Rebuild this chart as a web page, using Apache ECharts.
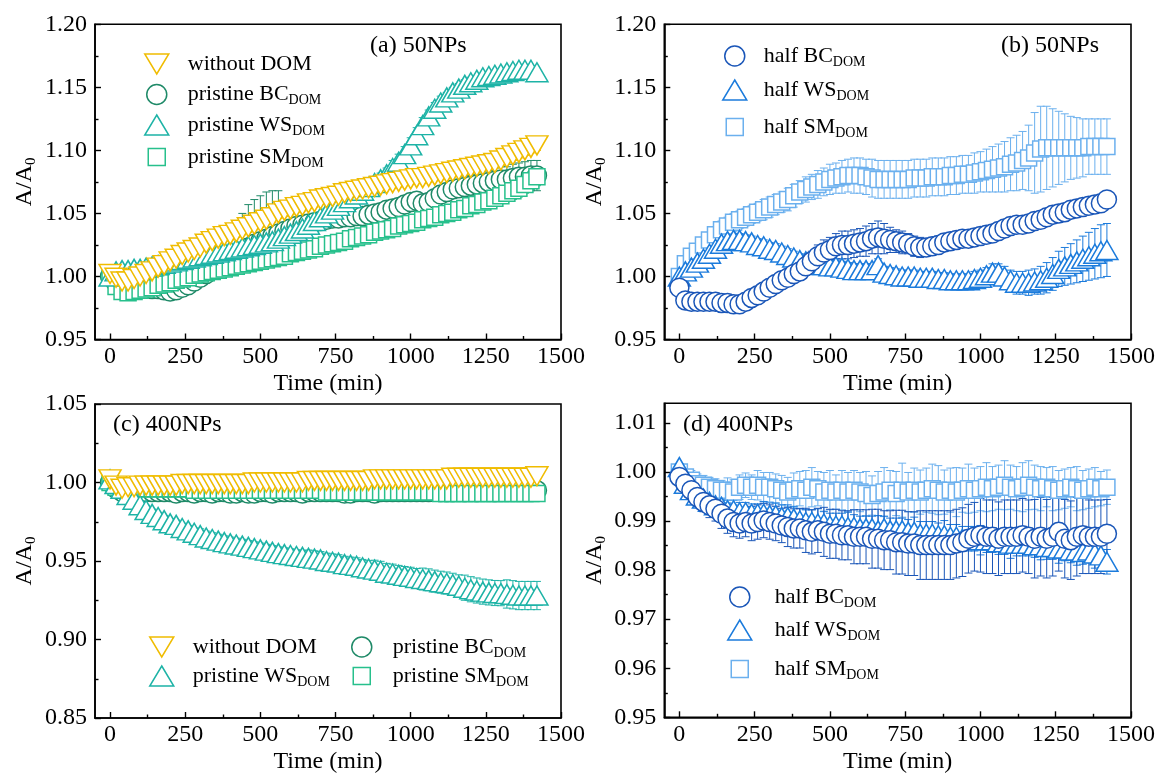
<!DOCTYPE html>
<html><head><meta charset="utf-8">
<script src="https://cdn.jsdelivr.net/npm/echarts@6/dist/echarts.min.js"></script>
<style>html,body{margin:0;padding:0;background:#fff}#c{width:1159px;height:778px}</style>
</head><body><div id="c"></div>
<script>
// ---------- data ----------
const times = [0,20,40,60,80,100,120,140,160,180,200,220,240,260,280,300,320,340,360,380,400,420,440,460,480,500,520,540,560,580,600,620,640,660,680,700,720,740,760,780,800,820,840,860,880,900,920,940,960,980,1000,1020,1040,1060,1080,1100,1120,1140,1160,1180,1200,1220,1240,1260,1280,1300,1320,1340,1360,1380,1400,1420];

const xMajor = [0,250,500,750,1000,1250,1500];
const xMinor = [125,375,625,875,1125,1375];
const yMajorAB = [0.95,1.00,1.05,1.10,1.15,1.20];
const yMinorAB = [0.975,1.025,1.075,1.125,1.175];
const yMajorC = [0.85,0.90,0.95,1.00,1.05];
const yMinorC = [0.875,0.925,0.975,1.025];
const yMajorD = [0.95,0.96,0.97,0.98,0.99,1.00,1.01];
const yMinorD = [0.955,0.965,0.975,0.985,0.995,1.005];

// (a) 50NPs
const a_wo_y = [1.002,0.999,0.996,0.996,0.998,1.000,1.002,1.004,1.007,1.009,
1.012,1.014,1.017,1.019,1.021,1.023,1.026,1.028,1.030,1.032,
1.033,1.035,1.037,1.039,1.041,1.043,1.045,1.047,1.050,1.052,
1.053,1.055,1.056,1.058,1.059,1.061,1.062,1.063,1.064,1.066,
1.067,1.068,1.069,1.070,1.071,1.072,1.073,1.074,1.075,1.076,
1.077,1.078,1.078,1.079,1.080,1.081,1.082,1.083,1.084,1.085,
1.086,1.087,1.088,1.089,1.090,1.092,1.094,1.096,1.098,1.100,
1.102,1.104];
const a_wo_e = [0.002,0.002,0.003,0.003,0.003,0.003,0.003,0.003,0.003,0.003,
0.003,0.003,0.003,0.003,0.003,0.003,0.003,0.004,0.004,0.004,
0.004,0.004,0.004,0.004,0.004,0.004,0.004,0.004,0.004,0.004,
0.004,0.004,0.004,0.004,0.004,0.004,0.004,0.004,0.004,0.004,
0.004,0.004,0.004,0.004,0.004,0.004,0.004,0.004,0.004,0.004,
0.004,0.004,0.004,0.004,0.004,0.004,0.004,0.004,0.004,0.004,
0.004,0.004,0.004,0.004,0.004,0.004,0.004,0.004,0.004,0.004,
0.004,0.004];
const a_bc_y = [1.000,0.995,0.992,0.991,0.990,0.991,0.991,0.990,0.990,0.989,
0.988,0.989,0.991,0.993,0.996,0.999,1.002,1.005,1.008,1.011,
1.014,1.017,1.020,1.023,1.026,1.028,1.030,1.032,1.034,1.036,
1.038,1.040,1.041,1.042,1.043,1.044,1.045,1.046,1.046,1.047,
1.047,1.048,1.048,1.049,1.050,1.051,1.053,1.054,1.055,1.057,
1.059,1.060,1.058,1.059,1.062,1.065,1.067,1.069,1.070,1.071,
1.072,1.073,1.074,1.075,1.076,1.077,1.077,1.078,1.079,1.079,
1.080,1.080];
// upper error
const a_bc_e = [0.002,0.003,0.003,0.003,0.003,0.003,0.003,0.003,0.003,0.003,
0.003,0.003,0.004,0.004,0.004,0.004,0.005,0.005,0.006,0.007,
0.010,0.026,0.030,0.034,0.035,0.036,0.037,0.036,0.034,0.012,
0.005,0.004,0.004,0.004,0.004,0.004,0.004,0.004,0.004,0.004,
0.004,0.004,0.004,0.004,0.004,0.004,0.005,0.005,0.005,0.005,
0.005,0.005,0.005,0.006,0.006,0.006,0.006,0.007,0.007,0.008,
0.008,0.008,0.009,0.009,0.010,0.010,0.010,0.011,0.011,0.012,
0.012,0.012];
// lower error
const a_bc_elo = [0.002,0.003,0.003,0.003,0.003,0.003,0.003,0.003,0.003,0.003,
0.003,0.003,0.004,0.004,0.004,0.004,0.005,0.005,0.005,0.005,
0.005,0.005,0.005,0.005,0.005,0.005,0.005,0.005,0.005,0.005,
0.005,0.004,0.004,0.004,0.004,0.004,0.004,0.004,0.004,0.004,
0.004,0.004,0.004,0.004,0.004,0.004,0.005,0.005,0.005,0.005,
0.005,0.005,0.005,0.006,0.006,0.006,0.006,0.007,0.007,0.008,
0.008,0.008,0.009,0.009,0.010,0.010,0.010,0.011,0.011,0.012,
0.012,0.012];
const a_ws_y = [1.000,1.004,1.005,1.005,1.006,1.006,1.007,1.008,1.009,1.010,
1.011,1.012,1.013,1.014,1.015,1.016,1.017,1.018,1.019,1.020,
1.021,1.022,1.023,1.024,1.025,1.026,1.027,1.028,1.030,1.032,
1.034,1.036,1.038,1.041,1.044,1.047,1.050,1.053,1.056,1.059,
1.062,1.065,1.068,1.071,1.074,1.077,1.081,1.086,1.091,1.097,
1.104,1.112,1.120,1.127,1.133,1.138,1.142,1.146,1.149,1.152,
1.154,1.156,1.158,1.159,1.160,1.161,1.162,1.163,1.164,1.164,
1.164,1.162];
const a_ws_e = [0.002,0.003,0.003,0.003,0.003,0.003,0.003,0.003,0.003,0.003,
0.003,0.003,0.003,0.003,0.003,0.003,0.003,0.003,0.003,0.003,
0.003,0.003,0.003,0.003,0.003,0.003,0.003,0.004,0.004,0.004,
0.004,0.004,0.004,0.004,0.004,0.004,0.004,0.004,0.004,0.004,
0.004,0.004,0.004,0.004,0.005,0.005,0.005,0.006,0.006,0.006,
0.006,0.006,0.006,0.005,0.005,0.005,0.004,0.004,0.004,0.004,
0.004,0.003,0.003,0.003,0.003,0.003,0.003,0.003,0.003,0.003,
0.003,0.003];
const a_sm_y = [1.000,0.992,0.988,0.987,0.988,0.989,0.990,0.991,0.993,0.994,
0.995,0.997,0.998,0.999,1.001,1.002,1.003,1.004,1.005,1.006,
1.007,1.008,1.009,1.010,1.011,1.012,1.013,1.014,1.015,1.016,
1.018,1.019,1.020,1.021,1.022,1.024,1.025,1.026,1.027,1.028,
1.030,1.031,1.032,1.033,1.035,1.036,1.037,1.038,1.040,1.041,
1.042,1.043,1.045,1.046,1.047,1.049,1.050,1.051,1.053,1.054,
1.056,1.057,1.059,1.060,1.062,1.064,1.066,1.068,1.070,1.073,
1.076,1.079];
const a_sm_e = [0.002,0.003,0.003,0.003,0.003,0.004,0.004,0.004,0.004,0.004,
0.004,0.004,0.004,0.004,0.004,0.004,0.004,0.005,0.005,0.005,
0.005,0.005,0.005,0.005,0.005,0.005,0.005,0.005,0.005,0.005,
0.005,0.005,0.005,0.005,0.005,0.005,0.005,0.005,0.005,0.005,
0.005,0.005,0.005,0.005,0.005,0.005,0.005,0.005,0.005,0.005,
0.005,0.005,0.005,0.005,0.005,0.005,0.005,0.006,0.006,0.006,
0.006,0.006,0.006,0.006,0.006,0.006,0.006,0.007,0.007,0.007,
0.007,0.007];

// (b) 50NPs
const b_bc_y = [0.991,0.981,0.980,0.980,0.980,0.980,0.980,0.979,0.979,0.978,
0.978,0.980,0.983,0.985,0.988,0.991,0.994,0.997,0.999,1.002,
1.004,1.008,1.012,1.016,1.019,1.021,1.024,1.025,1.025,1.026,
1.027,1.028,1.030,1.031,1.030,1.029,1.028,1.027,1.026,1.024,
1.023,1.023,1.024,1.025,1.027,1.028,1.029,1.030,1.030,1.031,
1.032,1.033,1.034,1.036,1.038,1.040,1.041,1.041,1.042,1.044,
1.045,1.047,1.049,1.050,1.051,1.053,1.054,1.055,1.056,1.057,
1.058,1.061];
const b_bc_e = [0.002,0.003,0.003,0.003,0.003,0.004,0.004,0.004,0.005,0.006,
0.006,0.006,0.005,0.005,0.005,0.005,0.005,0.006,0.006,0.006,
0.007,0.007,0.008,0.009,0.010,0.010,0.010,0.011,0.011,0.011,
0.011,0.012,0.012,0.013,0.012,0.010,0.009,0.009,0.008,0.008,
0.008,0.007,0.007,0.007,0.006,0.006,0.006,0.006,0.006,0.006,
0.006,0.006,0.006,0.005,0.005,0.005,0.005,0.005,0.005,0.005,
0.005,0.005,0.005,0.005,0.004,0.004,0.004,0.004,0.004,0.004,
0.004,0.004];
const b_ws_y = [1.000,1.004,1.007,1.011,1.014,1.018,1.022,1.026,1.028,1.029,
1.029,1.028,1.027,1.025,1.024,1.022,1.021,1.019,1.017,1.015,
1.013,1.012,1.010,1.009,1.009,1.008,1.008,1.007,1.006,1.005,
1.005,1.005,1.005,1.009,1.003,1.002,1.001,1.000,1.000,1.000,
0.999,0.999,0.999,0.998,0.998,0.997,0.997,0.997,0.997,0.998,
0.999,1.001,1.003,1.003,1.000,0.997,0.995,0.995,0.995,0.996,
0.997,0.999,1.002,1.006,1.008,1.010,1.012,1.014,1.016,1.018,
1.020,1.021];
const b_ws_e = [0.002,0.003,0.003,0.004,0.004,0.004,0.005,0.005,0.005,0.005,
0.005,0.005,0.005,0.005,0.005,0.005,0.005,0.005,0.005,0.005,
0.005,0.005,0.005,0.005,0.005,0.005,0.005,0.005,0.005,0.005,
0.005,0.005,0.005,0.005,0.005,0.005,0.005,0.005,0.005,0.005,
0.005,0.005,0.005,0.005,0.005,0.005,0.005,0.005,0.005,0.006,
0.006,0.006,0.007,0.007,0.008,0.008,0.009,0.009,0.010,0.010,
0.011,0.012,0.013,0.014,0.015,0.016,0.017,0.018,0.019,0.020,
0.021,0.021];
const b_sm_y = [1.000,1.010,1.016,1.020,1.025,1.029,1.033,1.037,1.040,1.043,
1.045,1.047,1.049,1.051,1.053,1.055,1.057,1.059,1.061,1.064,
1.067,1.069,1.071,1.073,1.075,1.077,1.078,1.079,1.080,1.080,
1.080,1.079,1.078,1.077,1.077,1.077,1.077,1.077,1.077,1.078,
1.078,1.078,1.079,1.079,1.079,1.080,1.080,1.081,1.081,1.082,
1.083,1.084,1.085,1.086,1.087,1.089,1.090,1.092,1.094,1.098,
1.101,1.102,1.102,1.102,1.102,1.102,1.102,1.102,1.103,1.103,
1.103,1.103];
const b_sm_e = [0.002,0.004,0.005,0.006,0.006,0.006,0.006,0.007,0.007,0.007,
0.007,0.007,0.007,0.007,0.008,0.008,0.008,0.008,0.009,0.009,
0.009,0.010,0.010,0.011,0.011,0.012,0.012,0.013,0.013,0.014,
0.014,0.014,0.015,0.015,0.015,0.015,0.015,0.015,0.015,0.015,
0.015,0.015,0.015,0.015,0.015,0.015,0.015,0.015,0.015,0.016,
0.016,0.017,0.018,0.019,0.020,0.021,0.022,0.023,0.026,0.032,
0.034,0.033,0.031,0.029,0.027,0.025,0.024,0.023,0.022,0.022,
0.022,0.022];

// (c) 400NPs
const c_wo_y = [1.002,0.998,0.996,0.997,0.997,0.998,0.998,0.998,0.998,0.998,
0.998,0.998,0.999,0.999,0.999,0.999,0.999,0.999,0.999,0.999,
0.999,0.999,0.999,0.999,1.000,1.000,1.000,1.000,1.000,1.000,
1.000,1.000,1.000,1.001,1.001,1.001,1.001,1.001,1.001,1.001,
1.001,1.001,1.001,1.001,1.002,1.002,1.002,1.002,1.002,1.002,
1.002,1.002,1.002,1.002,1.002,1.002,1.002,1.003,1.003,1.003,
1.003,1.003,1.003,1.003,1.003,1.003,1.003,1.003,1.003,1.003,
1.003,1.004];
const c_wo_e = [0.001,0.002,0.002,0.002,0.002,0.002,0.002,0.002,0.002,0.002,
0.002,0.002,0.002,0.002,0.002,0.002,0.002,0.002,0.002,0.002,
0.002,0.002,0.002,0.002,0.002,0.003,0.002,0.002,0.002,0.002,
0.002,0.002,0.003,0.002,0.002,0.002,0.002,0.002,0.003,0.002,
0.002,0.002,0.002,0.002,0.002,0.002,0.003,0.002,0.002,0.002,
0.002,0.002,0.002,0.003,0.002,0.002,0.002,0.002,0.002,0.002,
0.003,0.002,0.002,0.002,0.002,0.002,0.003,0.002,0.002,0.002,
0.002,0.002];
const c_bc_y = [1.000,0.996,0.994,0.994,0.994,0.994,0.994,0.994,0.994,0.994,
0.994,0.993,0.994,0.994,0.993,0.994,0.994,0.993,0.994,0.994,
0.993,0.993,0.994,0.993,0.993,0.994,0.994,0.993,0.994,0.994,
0.994,0.994,0.993,0.994,0.994,0.994,0.994,0.994,0.994,0.993,
0.993,0.994,0.994,0.994,0.993,0.994,0.994,0.994,0.994,0.994,
0.994,0.994,0.994,0.994,0.995,0.994,0.994,0.994,0.995,0.994,
0.995,0.994,0.995,0.995,0.994,0.995,0.995,0.995,0.995,0.995,
0.995,0.995];
const c_bc_e = [0.001,0.002,0.002,0.002,0.002,0.002,0.002,0.002,0.002,0.002,
0.002,0.002,0.002,0.002,0.002,0.002,0.002,0.002,0.002,0.002,
0.002,0.002,0.002,0.002,0.002,0.002,0.002,0.002,0.002,0.002,
0.002,0.002,0.002,0.002,0.002,0.002,0.002,0.002,0.002,0.002,
0.002,0.002,0.002,0.002,0.002,0.002,0.002,0.002,0.002,0.002,
0.002,0.002,0.002,0.002,0.002,0.002,0.002,0.002,0.002,0.002,
0.002,0.002,0.002,0.002,0.002,0.002,0.002,0.002,0.002,0.002,
0.002,0.002];
const c_ws_y = [1.002,0.999,0.996,0.992,0.989,0.9855,0.9825,0.980,0.978,0.976,
0.974,0.973,0.971,0.9695,0.968,0.9665,0.965,0.964,0.963,0.962,
0.9612,0.9605,0.9598,0.959,0.9582,0.9574,0.9566,0.9558,0.955,0.9544,
0.9538,0.9532,0.9526,0.952,0.9515,0.951,0.950,0.9495,0.949,0.948,
0.9475,0.947,0.946,0.9452,0.9445,0.9438,0.9425,0.942,0.9412,0.9405,
0.940,0.9392,0.9385,0.938,0.9372,0.9365,0.936,0.9352,0.9342,0.933,
0.932,0.9312,0.9305,0.930,0.9296,0.9295,0.929,0.9285,0.928,0.928,
0.928,0.928];
const c_ws_e = [0.001,0.002,0.002,0.002,0.003,0.003,0.003,0.003,0.003,0.003,
0.003,0.003,0.003,0.003,0.003,0.004,0.004,0.004,0.004,0.004,
0.004,0.004,0.004,0.004,0.004,0.004,0.004,0.004,0.004,0.004,
0.004,0.004,0.004,0.005,0.005,0.005,0.005,0.005,0.005,0.005,
0.005,0.005,0.005,0.005,0.006,0.006,0.006,0.006,0.006,0.006,
0.006,0.006,0.007,0.007,0.007,0.007,0.007,0.007,0.007,0.008,
0.008,0.008,0.008,0.008,0.008,0.008,0.009,0.009,0.009,0.009,
0.009,0.009];
const c_sm_y = [1.000,0.997,0.996,0.996,0.996,0.996,0.996,0.996,0.996,0.996,
0.996,0.996,0.996,0.996,0.995,0.995,0.995,0.995,0.995,0.995,
0.995,0.995,0.995,0.995,0.995,0.995,0.995,0.995,0.995,0.995,
0.995,0.995,0.995,0.995,0.995,0.995,0.994,0.994,0.994,0.994,
0.994,0.994,0.994,0.994,0.994,0.994,0.994,0.994,0.994,0.994,
0.994,0.994,0.994,0.994,0.994,0.993,0.993,0.993,0.993,0.993,
0.993,0.993,0.993,0.993,0.993,0.993,0.993,0.993,0.993,0.993,
0.993,0.993];
const c_sm_e = [0.001,0.002,0.002,0.002,0.002,0.002,0.002,0.002,0.002,0.002,
0.002,0.002,0.002,0.002,0.002,0.002,0.002,0.002,0.002,0.002,
0.002,0.002,0.002,0.002,0.002,0.002,0.002,0.002,0.002,0.002,
0.002,0.002,0.002,0.002,0.002,0.002,0.002,0.002,0.002,0.002,
0.002,0.002,0.002,0.002,0.002,0.002,0.002,0.002,0.002,0.002,
0.002,0.002,0.002,0.002,0.002,0.002,0.002,0.002,0.002,0.002,
0.003,0.003,0.003,0.003,0.003,0.003,0.003,0.003,0.003,0.003,
0.003,0.003];

// (d) 400NPs
const d_bc_y = [0.9990,0.9976,0.9963,0.9949,0.9939,0.9932,0.9925,0.9915,0.9905,0.9898,
0.9895,0.9898,0.9895,0.9898,0.9901,0.9898,0.9895,0.9891,0.9888,0.9885,
0.9885,0.9881,0.9878,0.9881,0.9878,0.9874,0.9874,0.9871,0.9871,0.9868,
0.9868,0.9868,0.9864,0.9864,0.9861,0.9861,0.9857,0.9857,0.9854,0.9854,
0.9851,0.9851,0.9851,0.9851,0.9851,0.9851,0.9854,0.9857,0.9864,0.9868,
0.9871,0.9868,0.9868,0.9864,0.9868,0.9868,0.9868,0.9871,0.9868,0.9864,
0.9868,0.9864,0.9868,0.9878,0.9864,0.9861,0.9868,0.9871,0.9868,0.9868,
0.9868,0.9874];
const d_bc_e = [0.0005,0.0010,0.0015,0.0020,0.0020,0.0025,0.0025,0.0030,0.0030,0.0030,
0.0030,0.0030,0.0035,0.0035,0.0035,0.0035,0.0035,0.0035,0.0040,0.0040,
0.0040,0.0045,0.0045,0.0045,0.0050,0.0050,0.0050,0.0050,0.0050,0.0055,
0.0055,0.0055,0.0060,0.0060,0.0060,0.0060,0.0065,0.0065,0.0065,0.0065,
0.0070,0.0070,0.0070,0.0070,0.0070,0.0070,0.0070,0.0070,0.0070,0.0070,
0.0075,0.0075,0.0075,0.0075,0.0075,0.0075,0.0075,0.0075,0.0075,0.0080,
0.0080,0.0080,0.0080,0.0080,0.0080,0.0080,0.0080,0.0078,0.0075,0.0075,
0.0075,0.0070];
const d_ws_y = [1.0010,0.9976,0.9963,0.9952,0.9946,0.9939,0.9932,0.9929,0.9922,0.9922,
0.9918,0.9918,0.9915,0.9915,0.9915,0.9912,0.9912,0.9908,0.9908,0.9905,
0.9901,0.9898,0.9898,0.9895,0.9895,0.9891,0.9891,0.9891,0.9888,0.9888,
0.9885,0.9885,0.9885,0.9881,0.9885,0.9881,0.9881,0.9881,0.9878,0.9878,
0.9874,0.9874,0.9874,0.9871,0.9871,0.9868,0.9868,0.9864,0.9864,0.9864,
0.9861,0.9861,0.9861,0.9857,0.9857,0.9854,0.9854,0.9854,0.9854,0.9851,
0.9851,0.9847,0.9847,0.9844,0.9844,0.9840,0.9840,0.9837,0.9840,0.9834,
0.9830,0.9817];
const d_ws_e = [0.0005,0.0010,0.0015,0.0015,0.0020,0.0020,0.0020,0.0020,0.0020,0.0020,
0.0020,0.0020,0.0020,0.0020,0.0025,0.0025,0.0025,0.0025,0.0025,0.0025,
0.0025,0.0025,0.0025,0.0030,0.0025,0.0025,0.0025,0.0025,0.0030,0.0025,
0.0025,0.0025,0.0025,0.0030,0.0025,0.0025,0.0025,0.0025,0.0025,0.0030,
0.0025,0.0025,0.0025,0.0025,0.0030,0.0025,0.0025,0.0025,0.0025,0.0025,
0.0030,0.0025,0.0025,0.0025,0.0025,0.0030,0.0025,0.0025,0.0025,0.0025,
0.0030,0.0025,0.0025,0.0030,0.0025,0.0025,0.0030,0.0025,0.0025,0.0030,
0.0025,0.0025];
const d_sm_y = [1.0000,0.9990,0.9983,0.9976,0.9973,0.9969,0.9966,0.9963,0.9963,0.9959,
0.9969,0.9973,0.9969,0.9973,0.9969,0.9969,0.9966,0.9963,0.9959,0.9963,
0.9966,0.9963,0.9969,0.9966,0.9959,0.9963,0.9959,0.9963,0.9959,0.9963,
0.9959,0.9956,0.9952,0.9956,0.9959,0.9963,0.9956,0.9963,0.9959,0.9963,
0.9959,0.9963,0.9966,0.9963,0.9959,0.9963,0.9959,0.9963,0.9966,0.9963,
0.9966,0.9969,0.9966,0.9969,0.9973,0.9969,0.9966,0.9969,0.9973,0.9969,
0.9966,0.9969,0.9966,0.9963,0.9966,0.9969,0.9966,0.9963,0.9966,0.9969,
0.9966,0.9969];
const d_sm_e = [0.0005,0.0015,0.0020,0.0020,0.0020,0.0020,0.0020,0.0020,0.0025,0.0025,
0.0025,0.0025,0.0025,0.0030,0.0030,0.0030,0.0030,0.0030,0.0030,0.0035,
0.0035,0.0040,0.0040,0.0035,0.0040,0.0040,0.0035,0.0040,0.0040,0.0040,
0.0040,0.0045,0.0040,0.0045,0.0050,0.0040,0.0045,0.0055,0.0040,0.0045,
0.0045,0.0045,0.0050,0.0050,0.0045,0.0045,0.0050,0.0045,0.0050,0.0045,
0.0045,0.0050,0.0045,0.0045,0.0050,0.0045,0.0045,0.0050,0.0050,0.0045,
0.0045,0.0040,0.0045,0.0040,0.0040,0.0040,0.0045,0.0040,0.0040,0.0040,
0.0035,0.0035];

// ---------- styles ----------
const FONT = 'Liberation Serif';
const STYLE = {
  'without DOM': {color:'#F0BC00', symbol:'triangle', size:[22,19], rotate:180},
  'pristine BC': {color:'#1F8A68', symbol:'circle', size:19, rotate:0},
  'pristine WS': {color:'#1DB3A6', symbol:'triangle', size:[22,19], rotate:0},
  'pristine SM': {color:'#27C08C', symbol:'rect', size:16, rotate:0},
  'half BC': {color:'#1A56B8', symbol:'circle', size:19, rotate:0},
  'half WS': {color:'#1B7BDC', symbol:'triangle', size:[22,19], rotate:0},
  'half SM': {color:'#6BB0EE', symbol:'rect', size:16, rotate:0}
};

// series entries: [name, values, upper error, lower error (optional)]
const panels = [
  {left:95, top:24.3, width:466, height:315.2, ymin:0.95, ymax:1.20, yMajor:yMajorAB, yMinor:yMinorAB,
   series:[['pristine BC',a_bc_y,a_bc_e,a_bc_elo],['pristine SM',a_sm_y,a_sm_e],['pristine WS',a_ws_y,a_ws_e],['without DOM',a_wo_y,a_wo_e]]},
  {left:664.3, top:24.3, width:466.7, height:315.2, ymin:0.95, ymax:1.20, yMajor:yMajorAB, yMinor:yMinorAB,
   series:[['half SM',b_sm_y,b_sm_e],['half WS',b_ws_y,b_ws_e],['half BC',b_bc_y,b_bc_e]]},
  {left:95, top:404, width:466, height:314, ymin:0.85, ymax:1.05, yMajor:yMajorC, yMinor:yMinorC,
   series:[['pristine BC',c_bc_y,c_bc_e],['pristine SM',c_sm_y,c_sm_e],['pristine WS',c_ws_y,c_ws_e],['without DOM',c_wo_y,c_wo_e]]},
  {left:664.3, top:403.3, width:466.7, height:314, ymin:0.95, ymax:1.014, yMajor:yMajorD, yMinor:yMinorD,
   series:[['half SM',d_sm_y,d_sm_e],['half WS',d_ws_y,d_ws_e],['half BC',d_bc_y,d_bc_e]]}
];

function errRender(params, api) {
  const x = api.value(0), y = api.value(1), eu = api.value(2), el = api.value(3);
  const top = api.coord([x, y + eu]);
  const bot = api.coord([x, y - el]);
  const w = 4;
  const style = {stroke: api.visual('color'), lineWidth: 1, fill: null};
  return {type:'group', children:[
    {type:'line', shape:{x1:top[0], y1:top[1], x2:bot[0], y2:bot[1]}, style:style},
    {type:'line', shape:{x1:top[0]-w, y1:top[1], x2:top[0]+w, y2:top[1]}, style:style},
    {type:'line', shape:{x1:bot[0]-w, y1:bot[1], x2:bot[0]+w, y2:bot[1]}, style:style}
  ]};
}

const grids = [], xAxes = [], yAxes = [], series = [];
const txt = {fontFamily:FONT, fontSize:24, color:'#000'};
panels.forEach((p, gi) => {
  grids.push({left:p.left, top:p.top, width:p.width, height:p.height, show:true,
    borderColor:'#000', borderWidth:1.6, backgroundColor:'rgba(0,0,0,0)'});
  const xi = xAxes.length, yi = yAxes.length;
  xAxes.push({type:'value', gridIndex:gi, position:'bottom', min:-50, max:1500,
    name:'Time (min)', nameLocation:'middle', nameGap:32, nameTextStyle:txt,
    axisLine:{show:true, onZero:false, lineStyle:{color:'#000', width:1.6}},
    axisTick:{show:true, inside:true, length:6, customValues:xMajor, lineStyle:{color:'#000', width:1.4}},
    axisLabel:{show:true, customValues:xMajor, margin:5, fontFamily:FONT, fontSize:24, color:'#000',
      formatter:(v) => String(v)},
    splitLine:{show:false}});
  xAxes.push({type:'value', gridIndex:gi, position:'bottom', min:-50, max:1500,
    axisLine:{show:false, onZero:false},
    axisTick:{show:true, inside:true, length:3.5, customValues:xMinor, lineStyle:{color:'#000', width:1.4}},
    axisLabel:{show:false}, splitLine:{show:false}});
  yAxes.push({type:'value', gridIndex:gi, position:'left', min:p.ymin, max:p.ymax,
    name:'A/A{s|0}', nameLocation:'middle', nameGap:56,
    nameTextStyle:{fontFamily:FONT, fontSize:24, color:'#000', lineHeight:28,
      rich:{s:{fontFamily:FONT, fontSize:15, color:'#000', verticalAlign:'bottom'}}},
    axisLine:{show:true, onZero:false, lineStyle:{color:'#000', width:1.6}},
    axisTick:{show:true, inside:true, length:6, customValues:p.yMajor, lineStyle:{color:'#000', width:1.4}},
    axisLabel:{show:true, customValues:p.yMajor, margin:8, fontFamily:FONT, fontSize:24, color:'#000',
      formatter:(v) => Number(v).toFixed(2)},
    splitLine:{show:false}});
  yAxes.push({type:'value', gridIndex:gi, position:'left', min:p.ymin, max:p.ymax,
    axisLine:{show:false, onZero:false},
    axisTick:{show:true, inside:true, length:3.5, customValues:p.yMinor, lineStyle:{color:'#000', width:1.4}},
    axisLabel:{show:false}, splitLine:{show:false}});
  p.series.forEach(([name, ys, eu, el]) => {
    const st = STYLE[name];
    const lo = el || eu;
    series.push({type:'custom', name:name + ' err', xAxisIndex:xi, yAxisIndex:yi, clip:true, silent:true,
      renderItem:errRender, itemStyle:{color:st.color}, encode:{x:0, y:1},
      data: times.map((t, i) => [t, ys[i], eu[i], lo[i]])});
    series.push({type:'scatter', name:name, xAxisIndex:xi, yAxisIndex:yi, silent:true,
      symbol:st.symbol, symbolSize:st.size, symbolRotate:st.rotate,
      itemStyle:{color:'#fff', borderColor:st.color, borderWidth:1.5, opacity:1},
      emphasis:{disabled:true},
      data: times.map((t, i) => [t, ys[i]])});
  });
});

// one legend per entry: [name, marker centre x, centre y, text left x]
const legendItems = [
  ['without DOM',156,64,187],['pristine BC',156,94.5,187],['pristine WS',156,125,187],['pristine SM',156,157,187],
  ['half BC',734,56,763],['half WS',734,90,763],['half SM',734,127,763],
  ['without DOM',161,647,192],['pristine WS',161,676,192],['pristine BC',361,647,392],['pristine SM',361,676,392],
  ['half BC',739,597,774],['half WS',739,630,774],['half SM',739,669,774]
];
const legFmt = (n) => '{p| }' + (n === 'without DOM' ? n : n + '{s|DOM}');
const legends = legendItems.map(([name, cx, cy, tx]) => {
  const st = STYLE[name];
  const w = st.symbol === 'rect' ? 17 : (st.symbol === 'circle' ? 20 : 24);
  const h = st.symbol === 'rect' ? 17 : 20;
  const pad = Math.max(0, tx - (cx - w / 2 + w + 5));
  const item = st.rotate ? {name:name, icon:'path://M0,0L24,0L12,20Z'} : {name:name, icon:st.symbol};
  return {data:[item], left:cx - w / 2, top:cy - 13, orient:'vertical', itemWidth:w, itemHeight:h,
    selectedMode:false, formatter:legFmt, padding:0, symbolKeepAspect:true,
    itemStyle:{color:'#fff', borderColor:st.color, borderWidth:1.5},
    textStyle:{fontFamily:FONT, fontSize:22, color:'#000', lineHeight:26,
      rich:{p:{width:pad, fontSize:22}, s:{fontFamily:FONT, fontSize:14, color:'#000', verticalAlign:'bottom'}}}};
});

const ttl = {fontFamily:FONT, fontSize:24, fontWeight:'normal', color:'#000'};
const titles = [
  {text:'(a) 50NPs', left:370, top:34, padding:0, textStyle:ttl},
  {text:'(b) 50NPs', left:1001, top:34, padding:0, textStyle:ttl},
  {text:'(c) 400NPs', left:113, top:413, padding:0, textStyle:ttl},
  {text:'(d) 400NPs', left:683, top:413, padding:0, textStyle:ttl}
];

const chart = echarts.init(document.getElementById('c'), null, {renderer:'canvas'});
chart.setOption({
  animation:false, backgroundColor:'#fff',
  title:titles, legend:legends, grid:grids, xAxis:xAxes, yAxis:yAxes, series:series
});
</script></body></html>
